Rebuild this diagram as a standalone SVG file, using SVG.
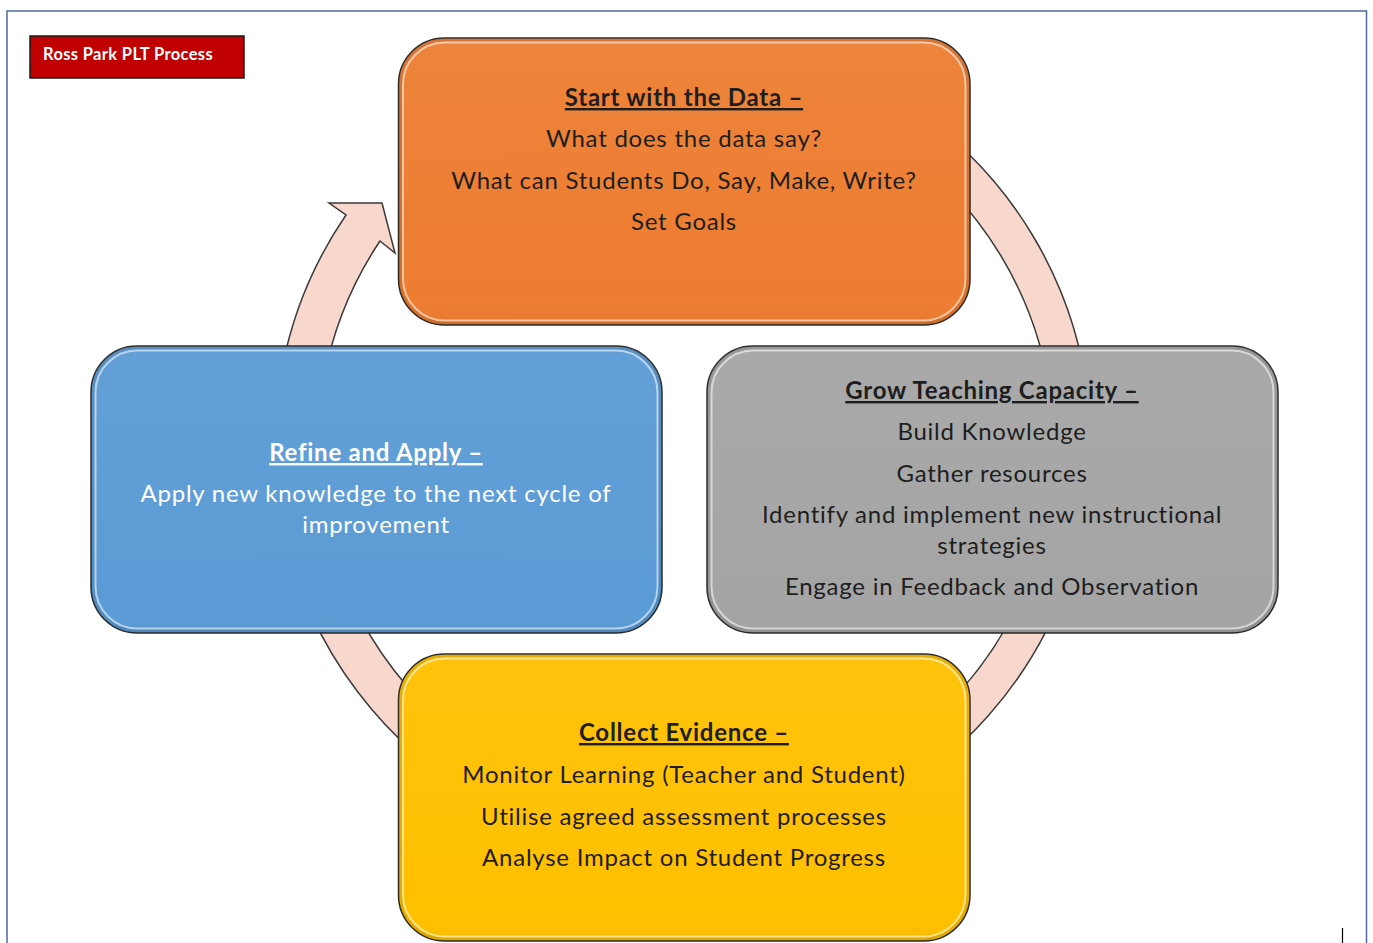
<svg xmlns="http://www.w3.org/2000/svg" width="1373" height="943" viewBox="0 0 1373 943">
  <style>
    .box { stroke: #2b2b2b; stroke-width: 1.5; }
    .hl { fill: none; stroke: #ffffff; stroke-width: 2; stroke-opacity: 0.55; }
    .edge { fill: none; stroke: #000000; stroke-width: 3; stroke-opacity: 0.1; }
    .t { font-family: Lato, "Open Sans", "Liberation Sans", sans-serif; font-size: 24px; letter-spacing: 0.75px; text-anchor: middle; fill: #1e1e1e; }
    .h { font-weight: bold; text-decoration: underline; }
    .w { fill: #ffffff; }
  </style>
  <defs>
    <linearGradient id="shade" x1="0" y1="0" x2="0" y2="1">
      <stop offset="0" stop-color="#ffffff" stop-opacity="0.05"/>
      <stop offset="0.9" stop-color="#ffffff" stop-opacity="0"/>
      <stop offset="1" stop-color="#000000" stop-opacity="0.03"/>
    </linearGradient>
  </defs>

  <rect width="1373" height="943" fill="#ffffff"/>

  <!-- page frame -->
  <path d="M7 943 V11 H1366.5 V943" fill="none" stroke="#50689c" stroke-width="1.5"/>
  <line x1="1342.5" y1="928" x2="1342.5" y2="943" stroke="#000000" stroke-width="1.2"/>

  <!-- circular cycle arrow -->
  <g id="connectors">
    <path d="M 755.3 43.8 A 408 408 0 1 1 346 215 L 329 203 L 382 203 L 395 253 L 380 241 A 368 368 0 1 0 748.4 83.2 Z"
          fill="#f8d7cc" stroke="#3a3a3a" stroke-width="1.5" stroke-linejoin="miter"/>
  </g>

  <!-- title label -->
  <g id="title">
    <rect x="30" y="36" width="214" height="42" fill="#c00000" stroke="#1a1a1a" stroke-width="1.5"/>
    <text x="43" y="60" font-family="Lato, 'Open Sans', 'Liberation Sans', sans-serif" font-size="16.5" letter-spacing="0.35" font-weight="bold" fill="#ffffff">Ross Park PLT Process</text>
  </g>

  <!-- Start with the Data -->
  <g id="node-data">
    <rect class="box" x="398.5" y="38" width="571.5" height="287" rx="46" fill="#ed7d31"/>
    <rect x="398.5" y="38" width="571.5" height="287" rx="46" fill="url(#shade)"/>
    <rect class="edge" x="400.5" y="40" width="567.5" height="283" rx="44"/>
    <rect class="hl" x="403" y="42.5" width="562.5" height="278" rx="42" stroke="#ffd9b0"/>
    <text class="t h" x="684" y="106">Start with the Data –</text>
    <text class="t" x="684" y="147">What does the data say?</text>
    <text class="t" x="684" y="189">What can Students Do, Say, Make, Write?</text>
    <text class="t" x="684" y="230">Set Goals</text>
  </g>

  <!-- Grow Teaching Capacity -->
  <g id="node-capacity">
    <rect class="box" x="707" y="346" width="571" height="287" rx="46" fill="#a5a5a5"/>
    <rect x="707" y="346" width="571" height="287" rx="46" fill="url(#shade)"/>
    <rect class="edge" x="709" y="348" width="567" height="283" rx="44"/>
    <rect class="hl" x="711.5" y="350.5" width="562" height="278" rx="42"/>
    <text class="t h" x="992" y="399">Grow Teaching Capacity –</text>
    <text class="t" x="992" y="440">Build Knowledge</text>
    <text class="t" x="992" y="482">Gather resources</text>
    <text class="t" x="992" y="523">Identify and implement new instructional</text>
    <text class="t" x="992" y="554">strategies</text>
    <text class="t" x="992" y="595">Engage in Feedback and Observation</text>
  </g>

  <!-- Refine and Apply -->
  <g id="node-refine">
    <rect class="box" x="91" y="346" width="571" height="287" rx="46" fill="#5b9bd5"/>
    <rect x="91" y="346" width="571" height="287" rx="46" fill="url(#shade)"/>
    <rect class="edge" x="93" y="348" width="567" height="283" rx="44"/>
    <rect class="hl" x="95.5" y="350.5" width="562" height="278" rx="42"/>
    <text class="t h w" x="376" y="461">Refine and Apply –</text>
    <text class="t w" x="376" y="502">Apply new knowledge to the next cycle of</text>
    <text class="t w" x="376" y="533">improvement</text>
  </g>

  <!-- Collect Evidence -->
  <g id="node-evidence">
    <rect class="box" x="398.5" y="654" width="571.5" height="287" rx="46" fill="#ffc000"/>
    <rect x="398.5" y="654" width="571.5" height="287" rx="46" fill="url(#shade)"/>
    <rect class="edge" x="400.5" y="656" width="567.5" height="283" rx="44"/>
    <rect class="hl" x="403" y="658.5" width="562.5" height="278" rx="42" stroke="#fff3a0"/>
    <text class="t h" x="684" y="741">Collect Evidence –</text>
    <text class="t" x="684" y="783">Monitor Learning (Teacher and Student)</text>
    <text class="t" x="684" y="825">Utilise agreed assessment processes</text>
    <text class="t" x="684" y="866">Analyse Impact on Student Progress</text>
  </g>
</svg>
